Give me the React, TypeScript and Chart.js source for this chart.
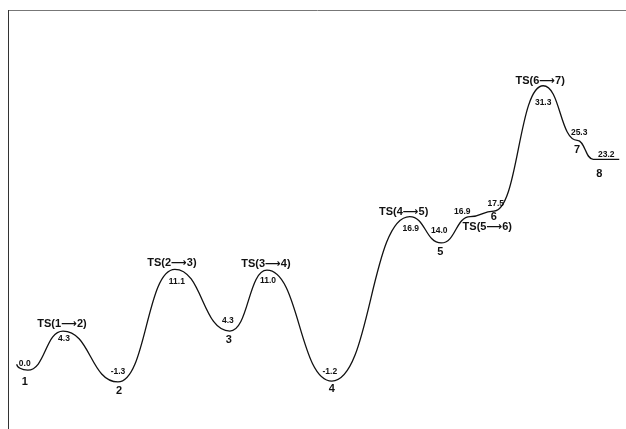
import { useEffect, useRef } from "react";
import { Chart, registerables } from "chart.js";

Chart.register(...registerables);

// Stationary points along the reaction path
const species = [
  "1", "TS(1⟶2)", "2", "TS(2⟶3)", "3", "TS(3⟶4)", "4",
  "TS(4⟶5)", "5", "TS(5⟶6)", "6", "TS(6⟶7)", "7", "8",
];
const energies = [0.0, 4.3, -1.3, 11.1, 4.3, 11.0, -1.2, 16.9, 14.0, 16.9, 17.5, 31.3, 25.3, 23.2];
const energyLabels = ["0.0", "4.3", "-1.3", "11.1", "4.3", "11.0", "-1.2", "16.9", "14.0", "16.9", "17.5", "31.3", "25.3", "23.2"];
const reactionCoord = [3.2, 8.9, 17.8, 27.0, 35.9, 41.9, 52.4, 65.0, 70.1, 74.8, 78.6, 86.6, 92.1, 94.7];

// Axis ranges
const coordMin = 0;
const coordMax = 100;
const energyMin = -6.48;
const energyMax = 39.64;

// Label placement (pixel offsets from each stationary point) – layout only
const nameOffsets: [number, number][] = [
  [-3, 12], [-1, -7], [1, 9], [-3, -6], [-1, 9], [-1, -6], [0, 8],
  [-6, -5], [-1, 9], [17, 10], [0, 6], [-3, -5], [0, 10], [6, 15],
];
const valueOffsets: [number, number][] = [
  [-3, -6], [1, 8], [0, -10], [2, 12], [-2, -10], [1, 10], [-2, -9],
  [1, 12], [-2, -12], [-8, -5], [2, -7], [0, 17], [2, -8], [13, -5],
];

const FONT = "'Liberation Sans', Arial, 'DejaVu Sans', sans-serif";

const profilePlugin = {
  id: "energyProfile",
  afterDatasetsDraw(chart: any) {
    const meta = chart.getDatasetMeta(0);
    const pts = meta.data as any[];
    if (!pts || !pts.length) return;
    const ctx: CanvasRenderingContext2D = chart.ctx;
    ctx.save();
    // Smooth profile with horizontal tangents at every stationary point
    ctx.beginPath();
    ctx.strokeStyle = "#111";
    ctx.lineWidth = 1.3;
    const p0 = pts[0];
    ctx.moveTo(p0.x - 11, p0.y - 6);
    ctx.bezierCurveTo(p0.x - 11, p0.y - 3, p0.x - 6, p0.y, p0.x, p0.y);
    for (let i = 1; i < pts.length; i++) {
      const a = pts[i - 1];
      const b = pts[i];
      const dx = b.x - a.x;
      const k = 0.5;
      ctx.bezierCurveTo(a.x + dx * k, a.y, b.x - dx * k, b.y, b.x, b.y);
    }
    const last = pts[pts.length - 1];
    ctx.lineTo(last.x + 26, last.y);
    ctx.stroke();

    // Labels
    ctx.fillStyle = "#111";
    ctx.textAlign = "center";
    ctx.textBaseline = "middle";
    for (let i = 0; i < pts.length; i++) {
      const p = pts[i];
      ctx.font = `bold 11px ${FONT}`;
      ctx.fillText(species[i], p.x + nameOffsets[i][0], p.y + nameOffsets[i][1]);
      ctx.font = `bold 8.5px ${FONT}`;
      ctx.fillText(energyLabels[i], p.x + valueOffsets[i][0], p.y + valueOffsets[i][1]);
    }
    ctx.restore();
  },
};

export default function App() {
  const canvasRef = useRef<HTMLCanvasElement | null>(null);

  useEffect(() => {
    document.body.style.margin = "0";
    document.body.style.overflow = "hidden";
    const canvas = canvasRef.current;
    if (!canvas) return;
    const chart = new Chart(canvas, {
      type: "line",
      data: {
        datasets: [
          {
            data: reactionCoord.map((x, i) => ({ x, y: energies[i] })),
            showLine: false,
            pointRadius: 0,
            borderColor: "#111",
          },
        ],
      },
      options: {
        animation: false,
        responsive: false,
        devicePixelRatio: 1,
        layout: { padding: { left: 8, top: 10, right: 0, bottom: 0 } },
        plugins: { legend: { display: false }, tooltip: { enabled: false } },
        scales: {
          x: {
            type: "linear",
            position: "top",
            min: coordMin,
            max: coordMax,
            ticks: { display: false },
            grid: { display: false, drawTicks: false },
            border: { display: true, color: "#777", width: 1 },
          },
          y: {
            type: "linear",
            position: "left",
            min: energyMin,
            max: energyMax,
            ticks: { display: false },
            grid: { display: false, drawTicks: false },
            border: { display: true, color: "#333", width: 1 },
          },
        },
      },
      plugins: [profilePlugin],
    });
    return () => chart.destroy();
  }, []);

  return (
    <div style={{ width: 626, height: 429, background: "#fff" }}>
      <canvas ref={canvasRef} width={626} height={429} style={{ display: "block" }} />
    </div>
  );
}
